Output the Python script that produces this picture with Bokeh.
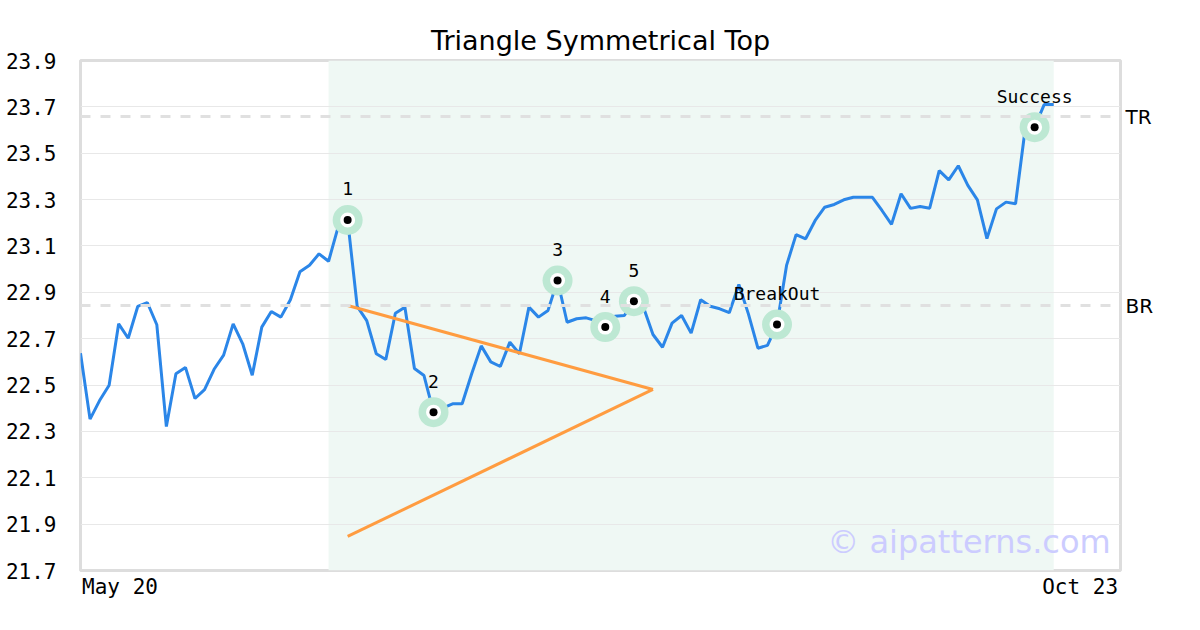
from bokeh.plotting import figure
from bokeh.models import Range1d, FixedTicker, BoxAnnotation, Span, Label, LinearAxis
from bokeh.core.properties import value
from bokeh.embed import file_html
from bokeh.resources import INLINE

# ---- data ----
prices = [
    22.637, 22.353, 22.433, 22.499, 22.764, 22.702, 22.839, 22.856, 22.760, 22.321,
    22.549, 22.576, 22.442, 22.480, 22.568, 22.629, 22.764, 22.678, 22.542, 22.750,
    22.817, 22.793, 22.868, 22.989, 23.017, 23.066, 23.034, 23.181, 23.212, 22.839,
    22.778, 22.635, 22.610, 22.810, 22.836, 22.571, 22.541, 22.383, 22.402, 22.419,
    22.419, 22.549, 22.669, 22.600, 22.580, 22.685, 22.635, 22.836, 22.793, 22.822,
    22.951, 22.771, 22.786, 22.790, 22.778, 22.750, 22.797, 22.800, 22.862, 22.836,
    22.718, 22.663, 22.767, 22.800, 22.724, 22.868, 22.840, 22.829, 22.812, 22.934,
    22.807, 22.659, 22.671, 22.761, 23.016, 23.149, 23.131, 23.210, 23.267, 23.279,
    23.299, 23.310, 23.310, 23.310, 23.253, 23.193, 23.325, 23.262, 23.270, 23.263,
    23.425, 23.385, 23.446, 23.361, 23.299, 23.132, 23.260, 23.289, 23.282, 23.601,
    23.612, 23.710, 23.710,
]
days = list(range(len(prices)))

point_idx = [28, 37, 50, 55, 58, 73, 100]
point_labels = ["1", "2", "3", "4", "5", "BreakOut", "Success"]

upper_line_x = [28, 60]
upper_line_y = [22.843, 22.481]
lower_line_x = [28, 60]
lower_line_y = [21.847, 22.481]

top_resistance = 23.658
bottom_resistance = 22.843
level_labels = ["TR", "BR"]

pattern_start = 26
pattern_end = 102

y_ticks = [21.7, 21.9, 22.1, 22.3, 22.5, 22.7, 22.9, 23.1, 23.3, 23.5, 23.7, 23.9]
x_tick_pos = [4.14, 104.77]
x_tick_labels = ["May 20", "Oct 23"]

# ---- figure ----
p = figure(width=1192, height=622, output_backend="svg", toolbar_location=None,
           x_range=Range1d(0, 109.0), y_range=Range1d(21.7, 23.9),
           min_border_left=80, min_border_right=72, min_border_top=60, min_border_bottom=52,
           title="Triangle Symmetrical Top")
p.title.text_font = "DejaVu Sans"
p.title.text_font_size = "27px"
p.title.text_font_style = "normal"
p.title.align = "center"
p.title.text_color = "#000000"

p.outline_line_color = "#dddddd"
p.outline_line_width = 3
p.background_fill_color = "#ffffff"
p.border_fill_color = "#ffffff"

p.xgrid.visible = False
p.ygrid.grid_line_color = "#e8e8e8"
p.ygrid.grid_line_width = 1
p.ygrid.ticker = FixedTicker(ticks=y_ticks)

p.yaxis.ticker = FixedTicker(ticks=y_ticks)
p.yaxis.major_label_overrides = {t: f"{t:.1f}" for t in y_ticks}
p.xaxis.ticker = FixedTicker(ticks=x_tick_pos)
p.xaxis.major_label_overrides = {t: l for t, l in zip(x_tick_pos, x_tick_labels)}

levels = [top_resistance, bottom_resistance]
raxis = LinearAxis(ticker=FixedTicker(ticks=levels),
                   major_label_overrides={t: l for t, l in zip(levels, level_labels)})
p.add_layout(raxis, "right")

for ax in (p.xaxis[0], p.yaxis[0], raxis):
    ax.axis_line_color = None
    ax.major_tick_line_color = None
    ax.minor_tick_line_color = None
    ax.major_tick_out = 0
    ax.major_tick_in = 0
    ax.major_label_text_font = "DejaVu Sans Mono"
    ax.major_label_text_font_size = "21px"
    ax.major_label_text_color = "#000000"
raxis.major_label_text_font = "DejaVu Sans"
raxis.major_label_text_font_size = "20px"
raxis.major_label_standoff = 5
p.yaxis[0].major_label_standoff = 24
p.xaxis.major_label_standoff = 4

box = BoxAnnotation(left=pattern_start, right=pattern_end, fill_color="#eff8f4",
                    fill_alpha=1.0, line_color=None, level="image")
p.add_layout(box)

for lvl in levels:
    p.add_layout(Span(location=lvl, dimension="width", line_color="#e0e0e0",
                      line_width=3, line_dash="10 10"))

p.line(days, prices, line_color="#2b86e8", line_width=3)

p.line(upper_line_x, upper_line_y, line_color="#ff9c40", line_width=3)
p.line(lower_line_x, lower_line_y, line_color="#ff9c40", line_width=3)

px = [days[i] for i in point_idx]
py = [prices[i] for i in point_idx]
p.scatter(px, py, size=30, marker="circle", fill_color="#bde8d3", line_color=None)
p.scatter(px, py, size=15, marker="circle", fill_color="#ffffff", line_color=None)
p.scatter(px, py, size=8, marker="circle", fill_color="#000000", line_color=None)

p.text(px, py, text=point_labels, text_font=value("DejaVu Sans Mono"),
       text_font_size="18px", text_align="center", text_baseline="alphabetic",
       y_offset=-31, text_color="#000000")

p.add_layout(Label(x=107.97, y=21.821, text="© aipatterns.com",
                   text_font="DejaVu Sans", text_font_size="32px",
                   text_baseline="middle", text_align="right", text_color="#ccccff"))

open("out.html", "w").write(file_html(p, INLINE))
